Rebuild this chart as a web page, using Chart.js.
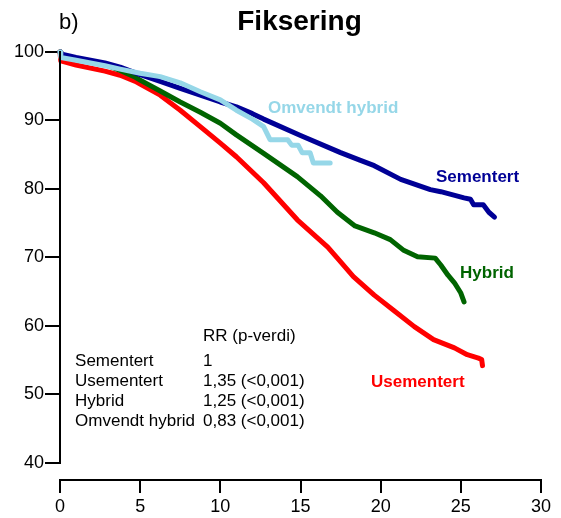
<!DOCTYPE html>
<html>
<head>
<meta charset="utf-8">
<script src="https://cdn.jsdelivr.net/npm/chart.js@4"></script>
<style>
html,body{margin:0;padding:0;background:#fff;}
#wrap{width:561px;height:518px;}
</style>
</head>
<body>
<div id="wrap"><canvas id="c" width="561" height="518"></canvas></div>
<script>
// ---- data ----
const xTicks = [0, 5, 10, 15, 20, 25, 30];
const yTicks = [40, 50, 60, 70, 80, 90, 100];

const sementertT = [0, 0.05, 1, 2.8, 3.75, 5, 6.25, 7.5, 8.75, 10, 11, 12, 12.7, 15, 17.5, 18.7, 19.6, 21.25, 23.1, 23.75, 25.2, 25.6, 25.8, 26.4, 26.75, 27.1];
const sementertV = [100, 99.7, 99.2, 98.4, 97.8, 96.7, 95.7, 94.7, 93.7, 92.7, 92.0, 91.0, 90.2, 87.8, 85.3, 84.2, 83.4, 81.4, 79.9, 79.6, 78.7, 78.5, 77.7, 77.7, 76.6, 75.9];

const usementertT = [0, 0.05, 1, 2.8, 3.75, 4.7, 5, 6.25, 7.5, 8.75, 10, 11, 12.7, 14.8, 16.7, 17.3, 18.3, 19.6, 20.8, 22.1, 23.3, 24.6, 25.4, 26.1, 26.3, 26.35];
const usementertV = [100, 98.7, 98.1, 97.2, 96.6, 95.7, 95.3, 93.7, 91.5, 89.1, 86.7, 84.7, 80.9, 75.5, 71.5, 69.9, 67.2, 64.5, 62.3, 59.9, 58.0, 56.8, 55.8, 55.3, 55.1, 54.2];

const hybridT = [0, 0.05, 1, 2.8, 3.75, 4.7, 5, 6.25, 7.5, 8.75, 10, 11, 12.7, 14.8, 16.25, 17.3, 18.4, 19.6, 20.6, 21.4, 22.3, 23.4, 23.75, 24.2, 24.6, 25, 25.2];
const hybridV = [100, 99.6, 99.1, 98.2, 97.3, 96.3, 95.9, 94.3, 92.7, 91.2, 89.6, 87.9, 85.2, 81.8, 79.0, 76.6, 74.6, 73.6, 72.6, 71.1, 70.1, 69.9, 68.9, 67.4, 66.3, 64.8, 63.5];

const omvendtT = [0, 0.05, 1, 2.8, 3.75, 5, 6.25, 7.5, 8.75, 10, 11, 12, 12.7, 13.1, 14.2, 14.45, 14.85, 15.1, 15.6, 15.8, 16.85];
const omvendtV = [100, 99.2, 98.8, 98.0, 97.5, 96.9, 96.4, 95.5, 94.2, 93.0, 91.5, 90.2, 89.1, 87.2, 87.2, 86.4, 86.4, 85.3, 85.3, 83.8, 83.8];

const seriesNames = ['Sementert', 'Usementert', 'Hybrid', 'Omvendt hybrid'];
const rrHeader = 'RR (p-verdi)';
const rrValues = ['1', '1,35 (<0,001)', '1,25 (<0,001)', '0,83 (<0,001)'];

// ---- styling ----
const COLORS = ['#000096', '#ff0000', '#006400', '#96d7e8'];
const FONT = '"Liberation Sans", Arial, Helvetica, sans-serif';

function pts(t, v) { return t.map((x, i) => ({ x: x, y: v[i] })); }

const allT = [sementertT, usementertT, hybridT, omvendtT];
const allV = [sementertV, usementertV, hybridV, omvendtV];
const drawOrder = [1, 3, 2, 0];

const datasets = seriesNames.map((n, i) => ({
  label: n,
  data: pts(allT[i], allV[i]),
  borderColor: COLORS[i],
  backgroundColor: COLORS[i],
  borderWidth: 5,
  pointRadius: 0,
  tension: 0,
  fill: false,
  clip: false,
  borderCapStyle: 'round',
  borderJoinStyle: 'round',
  order: drawOrder[i]
}));

// label placement (data coordinates: [t, value])
const seriesLabelPos = [[23.45, 81.0], [19.4, 51.1], [24.95, 67.0], [12.97, 91.1]];
const tableX = [0.94, 8.92];
const tableRowsY = [57.8, 54.15, 51.2, 48.3, 45.4];

const annot = {
  id: 'annot',
  afterDraw(chart) {
    const ctx = chart.ctx, xs = chart.scales.x, ys = chart.scales.y;
    const ca = chart.chartArea;
    ctx.save();
    // y axis line from 40 to 100
    ctx.strokeStyle = '#000';
    ctx.lineWidth = 2;
    ctx.beginPath();
    ctx.moveTo(ca.left, ys.getPixelForValue(100) - 1);
    ctx.lineTo(ca.left, ys.getPixelForValue(40) + 1);
    ctx.stroke();

    // title and panel letter
    ctx.fillStyle = '#000';
    ctx.textBaseline = 'alphabetic';
    ctx.font = 'bold 28px ' + FONT;
    ctx.textAlign = 'center';
    ctx.fillText('Fiksering', (ca.left + ca.right) / 2 - 1, 30);
    ctx.font = '22px ' + FONT;
    ctx.textAlign = 'left';
    ctx.fillText('b)', 59, 29);

    // series labels
    ctx.font = 'bold 17px ' + FONT;
    seriesNames.forEach((n, i) => {
      ctx.fillStyle = COLORS[i];
      ctx.fillText(n, xs.getPixelForValue(seriesLabelPos[i][0]), ys.getPixelForValue(seriesLabelPos[i][1]));
    });

    // RR table
    ctx.fillStyle = '#000';
    ctx.font = '17px ' + FONT;
    ctx.fillText(rrHeader, xs.getPixelForValue(tableX[1]), ys.getPixelForValue(tableRowsY[0]));
    seriesNames.forEach((n, i) => {
      const y = ys.getPixelForValue(tableRowsY[i + 1]);
      ctx.fillText(n, xs.getPixelForValue(tableX[0]), y);
      ctx.fillText(rrValues[i], xs.getPixelForValue(tableX[1]), y);
    });
    ctx.restore();
  }
};

new Chart(document.getElementById('c'), {
  type: 'line',
  data: { datasets: datasets },
  options: {
    responsive: false,
    animation: false,
    devicePixelRatio: 1,
    layout: { padding: { top: 52, right: 20, left: 0, bottom: 0 } },
    plugins: { legend: { display: false }, title: { display: false }, tooltip: { enabled: false } },
    scales: {
      x: {
        type: 'linear',
        min: 0, max: 30,
        afterBuildTicks(s) { s.ticks = xTicks.map(v => ({ value: v })); },
        afterFit(s) { s.height = 38; },
        border: { display: true, color: '#000', width: 2 },
        grid: { drawOnChartArea: false, drawTicks: true, tickLength: 13, color: '#000', lineWidth: 2 },
        ticks: { color: '#000', font: { family: FONT, size: 18 }, padding: 3, maxRotation: 0 }
      },
      y: {
        type: 'linear',
        min: 37.5, max: 100,
        afterBuildTicks(s) { s.ticks = yTicks.map(v => ({ value: v })); },
        afterFit(s) { s.width = 60; },
        border: { display: false },
        grid: { drawOnChartArea: false, drawTicks: true, tickLength: 15, color: '#000', lineWidth: 2 },
        ticks: { color: '#000', font: { family: FONT, size: 18 }, padding: 1 }
      }
    }
  },
  plugins: [annot]
});
</script>
</body>
</html>
